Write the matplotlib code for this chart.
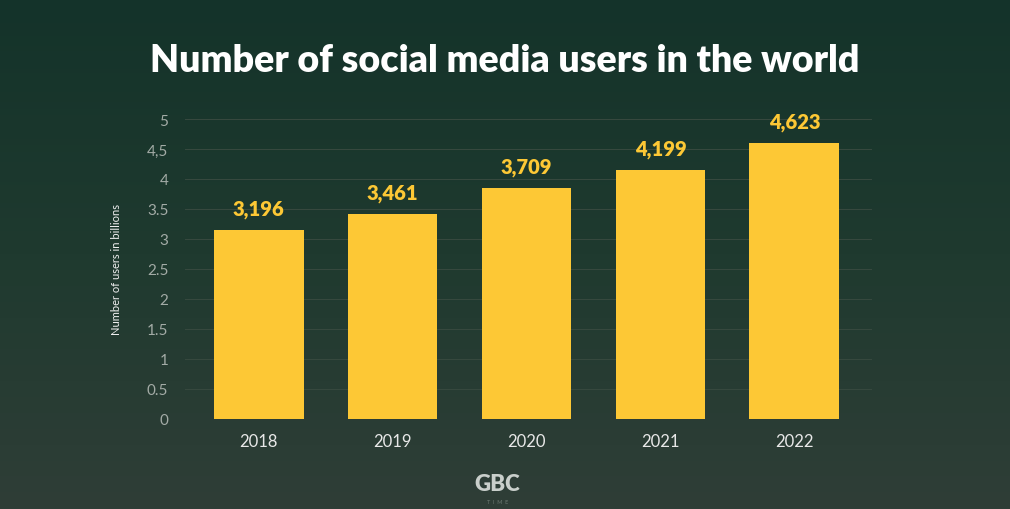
import numpy as np
import matplotlib.pyplot as plt
from matplotlib.colors import LinearSegmentedColormap

years = ['2018', '2019', '2020', '2021', '2022']
users = [3.15, 3.42, 3.85, 4.155, 4.605]
value_labels = ['3,196', '3,461', '3,709', '4,199', '4,623']
yticks = [0, 0.5, 1, 1.5, 2, 2.5, 3, 3.5, 4, 4.5, 5]
ytick_labels = ['0', '0.5', '1', '1.5', '2', '2.5', '3', '3.5', '4', '4,5', '5']

plt.rcParams['font.family'] = ['Lato', 'DejaVu Sans']

fig = plt.figure(figsize=(10.1, 5.1), dpi=100)

# background gradient
bg = fig.add_axes([0, 0, 1, 1], zorder=-10)
cmap = LinearSegmentedColormap.from_list('bg', ['#14332a', '#1f3a2f', '#2f3e37'])
bg.imshow(np.linspace(0, 1, 256).reshape(-1, 1), aspect='auto', cmap=cmap,
          extent=[0, 1, 0, 1], origin='upper')
bg.axis('off')

ax = fig.add_axes([0.1832, 0.1765, 0.6802, 0.5882])
ax.patch.set_alpha(0)
x = np.arange(len(years))
ax.bar(x, users, width=0.67, color='#fdc835', zorder=3)
for xi, v, lab in zip(x, users, value_labels):
    ax.text(xi, v + 0.2, lab, ha='center', va='bottom', color='#fdc835',
            fontsize=14.5, fontweight='heavy')

ax.set_xlim(-0.55, 4.58)
ax.set_ylim(0, 5)
ax.set_yticks(yticks)
ax.set_yticklabels(ytick_labels, color='#a3aba6', fontsize=11)
ax.set_xticks(x)
ax.set_xticklabels(years, color='#e8e8e8', fontsize=12)
ax.tick_params(length=0)
ax.tick_params(axis='y', pad=12)
ax.tick_params(axis='x', pad=10)
ax.grid(axis='y', color='#37493f', lw=0.7, zorder=0)
for s in ax.spines.values():
    s.set_visible(False)
ax.set_ylabel('Number of users in billions', color='#f0f0f0', fontsize=8, labelpad=18)

fig.text(0.5, 0.88, 'Number of social media users in the world', ha='center', va='center',
         color='white', fontsize=27, fontweight='heavy')

# logo
fig.text(0.4925, 0.05, 'GBC', ha='center', va='center', color='#c9cfcb',
         fontsize=16, fontweight='heavy')
fig.text(0.4925, 0.014, 'T  I  M  E', ha='center', va='center', color='#6d7a73', fontsize=4)

plt.savefig('out.png', dpi=100)
plt.close()
